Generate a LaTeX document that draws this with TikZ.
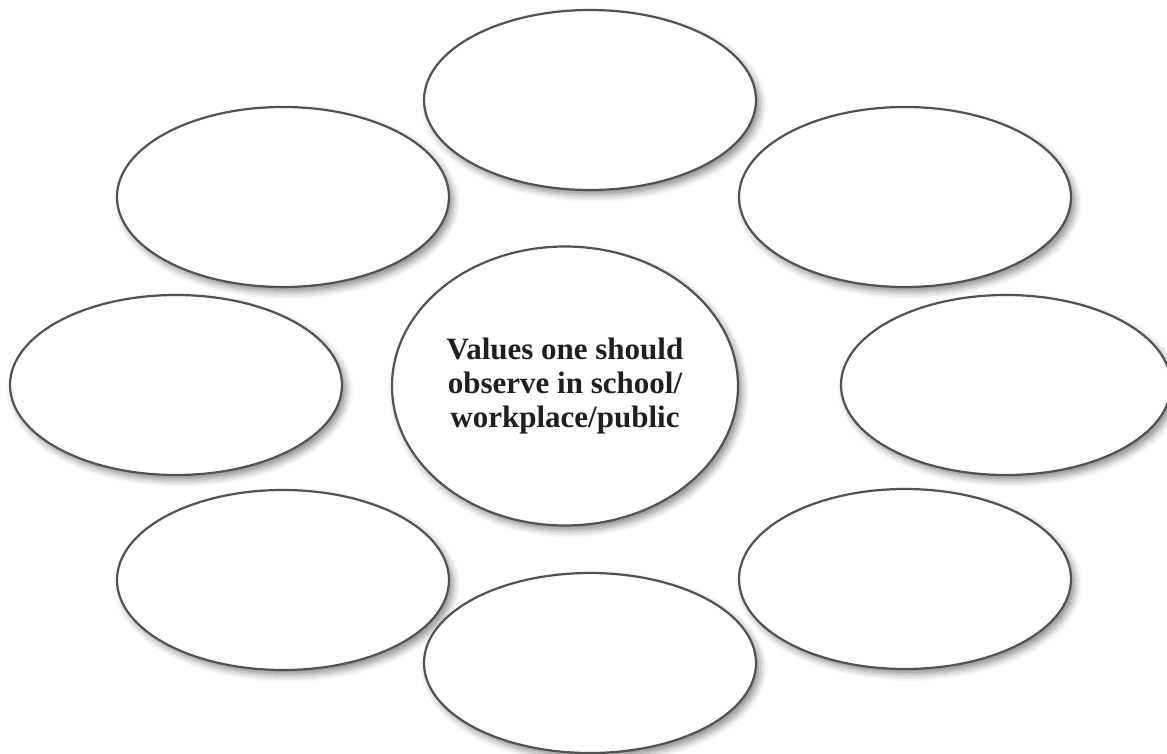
\documentclass[tikz,border=0pt]{standalone}
\usepackage{fontspec}
\setmainfont{Liberation Serif}
\usetikzlibrary{shapes.geometric,shadows.blur}
\begin{document}
\begin{tikzpicture}[x=1pt,y=-1pt,
  bubble/.style={ellipse, draw=black!68, line width=2.2pt, fill=white, inner sep=0pt,
    minimum width=332pt, minimum height=180pt,
    blur shadow={shadow xshift=4pt, shadow yshift=-5pt, shadow blur radius=7pt, shadow opacity=45}},
  centre/.style={bubble, minimum width=346pt, minimum height=279pt, align=center,
    font=\bfseries\fontsize{31}{34}\selectfont, text=black!88}]
\useasboundingbox (0,0) rectangle (1167,754);
\node[bubble] (top) at (590,100) {};
\node[bubble] (tl) at (283,197) {};
\node[bubble] (tr) at (905,197) {};
\node[bubble] (l) at (176,385) {};
\node[bubble, minimum width=330pt] (r) at (1006,385) {};
\node[bubble] (bl) at (283,580) {};
\node[bubble] (br) at (905,579) {};
\node[bubble] (bot) at (590,663) {};
\node[centre] (c) at (565,386) {Values one should\\observe in school/\\workplace/public};
\end{tikzpicture}
\end{document}
